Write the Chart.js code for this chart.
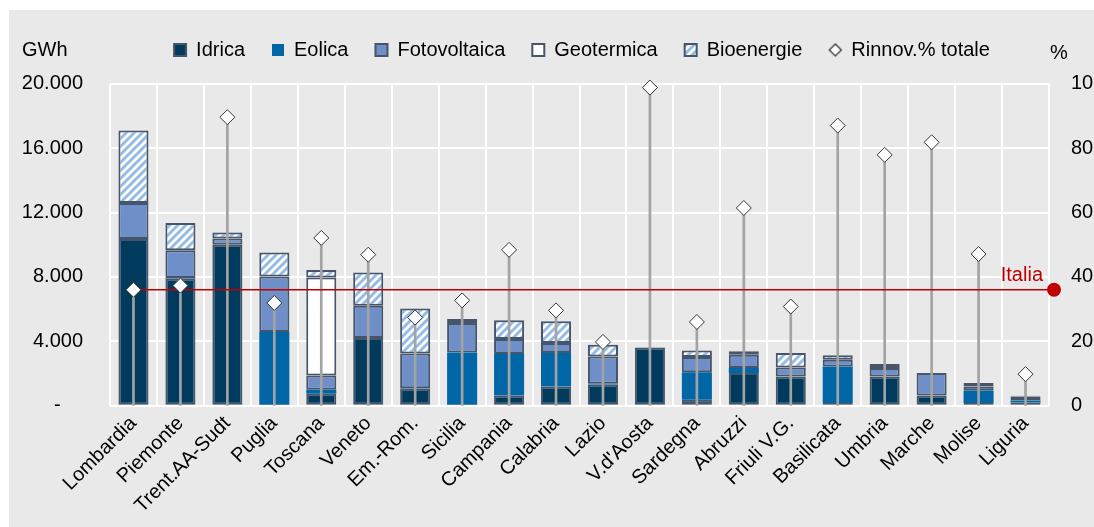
<!DOCTYPE html>
<html>
<head>
<meta charset="utf-8">
<script src="https://cdn.jsdelivr.net/npm/chart.js@4.4.1/dist/chart.umd.min.js"></script>
<style>
  html, body { margin: 0; padding: 0; background: #ffffff; }
  #wrap { position: absolute; left: 9px; top: 10px; width: 1085px; height: 517px; background: #e9e9e9; }
</style>
</head>
<body>
<div id="wrap"><canvas id="chart" width="1085" height="517"></canvas></div>
<script>
// regions (GWh stacked by source) + share of renewables (%)
const regions = ['Lombardia', 'Piemonte', 'Trent.AA-Sudt', 'Puglia', 'Toscana', 'Veneto', 'Em.-Rom.', 'Sicilia',
    'Campania', 'Calabria', 'Lazio', "V.d'Aosta", 'Sardegna', 'Abruzzi', 'Friuli V.G.', 'Basilicata', 'Umbria',
    'Marche', 'Molise', 'Liguria'];
const idrica = [10350, 7900, 10000, 0, 740, 4200, 1060, 0, 640, 1200, 1310, 3620, 370, 2030, 1820, 170, 1820, 640, 170, 200];
const eolica = [0, 30, 0, 4580, 250, 0, 20, 3310, 2570, 2070, 60, 0, 1700, 310, 0, 2270, 0, 0, 760, 120];
const fotovoltaica = [2240, 1720, 390, 3450, 890, 2010, 2170, 1830, 930, 620, 1690, 0, 950, 830, 560, 420, 520, 1390, 270, 250];
const geotermica = [0, 0, 0, 0, 6090, 0, 0, 0, 0, 0, 0, 0, 0, 0, 0, 0, 0, 0, 0, 0];
const bioenergie = [4510, 1700, 370, 1490, 460, 2070, 2790, 240, 1160, 1350, 730, 0, 410, 210, 890, 270, 250, 0, 210, 50];
const rinnovPct = [36.0, 37.3, 89.6, 31.9, 52.1, 46.9, 27.4, 32.7, 48.4, 29.6, 19.8, 98.8, 26.0, 61.4, 30.8, 87.0, 77.9, 81.8, 47.1, 9.8];
const italiaPct = 36;
const gwhTicks = [0, 4000, 8000, 12000, 16000, 20000];

const FONT = "'Liberation Sans', Arial, sans-serif";
const EDGE = '#465569';
const RED = '#c00000';

function stripes() {
    const c = document.createElement('canvas');
    c.width = 8; c.height = 8;
    const g = c.getContext('2d');
    g.fillStyle = '#ffffff';
    g.fillRect(0, 0, 8, 8);
    g.strokeStyle = '#94bce6';
    g.lineWidth = 3;
    g.beginPath();
    g.moveTo(-2, 10); g.lineTo(10, -2);
    g.moveTo(-2, 2); g.lineTo(2, -2);
    g.moveTo(6, 10); g.lineTo(10, 6);
    g.stroke();
    return g.createPattern(c, 'repeat');
}

function legendDiamond() {
    const c = document.createElement('canvas');
    c.width = 15; c.height = 15;
    const g = c.getContext('2d');
    g.fillStyle = '#ffffff';
    g.strokeStyle = '#262626';
    g.lineWidth = 1.2;
    g.beginPath();
    g.moveTo(7.5, 1.5); g.lineTo(13.5, 7.5); g.lineTo(7.5, 13.5); g.lineTo(1.5, 7.5); g.closePath();
    g.fill(); g.stroke();
    return c;
}

function fmt(v) {
    if (v === 0) return '-    ';
    return String(v).replace(/\B(?=(\d{3})+(?!\d))/g, '.');
}

function barSet(label, data, color, border) {
    return {
        label: label,
        data: data,
        backgroundColor: color,
        borderColor: EDGE,
        borderWidth: border,
        borderSkipped: false,
        barPercentage: 0.64,
        categoryPercentage: 1,
        pointStyle: 'rect',
        order: 3
    };
}

const extras = {
    id: 'extras',
    beforeDraw(chart) {
        // legend centred a bit right of the canvas centre, as in the original
        if (chart.legend) chart.legend.left = 61;
    },
    beforeDatasetDraw(chart, args) {
        if (args.index !== 5) return;
        const ctx = chart.ctx;
        const area = chart.chartArea;
        const y = chart.scales.y2.getPixelForValue(italiaPct);
        const x0 = chart.scales.x.getPixelForValue(0);
        ctx.save();
        ctx.strokeStyle = RED;
        ctx.lineWidth = 1.5;
        ctx.beginPath();
        ctx.moveTo(x0, y);
        ctx.lineTo(area.right + 5, y);
        ctx.stroke();
        ctx.fillStyle = RED;
        ctx.beginPath();
        ctx.arc(area.right + 5, y, 7, 0, Math.PI * 2);
        ctx.fill();
        ctx.font = '20px ' + FONT;
        ctx.textAlign = 'right';
        ctx.textBaseline = 'middle';
        ctx.fillText('Italia', area.right - 6, y - 14);
        ctx.restore();
    },
    afterDraw(chart) {
        const ctx = chart.ctx;
        const area = chart.chartArea;
        ctx.save();
        ctx.fillStyle = '#000000';
        ctx.font = '20px ' + FONT;
        ctx.textBaseline = 'middle';
        ctx.textAlign = 'left';
        ctx.fillText('GWh', area.left - 88, 40);
        ctx.fillText('%', area.right + 1, 43);
        ctx.restore();
    }
};

const bioPattern = stripes();
const diamondIcon = legendDiamond();

new Chart(document.getElementById('chart'), {
    type: 'bar',
    data: {
        labels: regions,
        datasets: [
            barSet('Idrica', idrica, '#003a5c', 2),
            barSet('Eolica', eolica, '#0066a6', 0),
            barSet('Fotovoltaica', fotovoltaica, '#6e8fc8', 2),
            barSet('Geotermica', geotermica, '#ffffff', 2),
            barSet('Bioenergie', bioenergie, bioPattern, 2),
            {
                type: 'line',
                label: 'Rinnov.% totale',
                data: rinnovPct,
                yAxisID: 'y2',
                showLine: false,
                pointStyle: 'rectRot',
                pointRadius: 7.5,
                pointHoverRadius: 7.5,
                pointBackgroundColor: '#ffffff',
                pointBorderColor: '#333333',
                pointBorderWidth: 1,
                backgroundColor: '#ffffff',
                borderColor: '#333333',
                clip: false,
                order: 1
            },
            {
                label: 'drop',
                data: rinnovPct,
                yAxisID: 'y2',
                grouped: false,
                backgroundColor: '#a3a3a3',
                borderWidth: 0,
                barThickness: 2,
                maxBarThickness: 2,
                order: 2
            }
        ]
    },
    options: {
        responsive: false,
        animation: false,
        events: [],
        layout: { padding: { top: 3, left: 0, right: 0, bottom: 0 } },
        plugins: {
            tooltip: { enabled: false },
            title: { display: true, text: '', weight: 500, font: { size: 1 }, padding: { top: 0, bottom: 12.5 } },
            legend: {
                position: 'top',
                labels: {
                    usePointStyle: true,
                    boxWidth: 12,
                    boxHeight: 12,
                    padding: 27,
                    color: '#000000',
                    font: { family: FONT, size: 20 },
                    filter: item => item.datasetIndex !== 6,
                    sort: (a, b) => a.datasetIndex - b.datasetIndex,
                    generateLabels(chart) {
                        const items = Chart.defaults.plugins.legend.labels.generateLabels(chart);
                        items.forEach(it => {
                            if (it.datasetIndex === 5) it.pointStyle = diamondIcon;
                            else it.pointStyle = 'rect';
                        });
                        return items;
                    }
                }
            }
        },
        scales: {
            x: {
                stacked: true,
                offset: true,
                grid: { color: '#ffffff', lineWidth: 2, offset: true, drawTicks: false },
                border: { display: false },
                ticks: {
                    color: '#000000',
                    font: { family: FONT, size: 20 },
                    minRotation: 45,
                    maxRotation: 45,
                    autoSkip: false,
                    padding: 6
                },
                afterFit: s => { s.height = 121.3; }
            },
            y: {
                stacked: true,
                min: 0,
                max: 20000,
                afterBuildTicks: s => { s.ticks = gwhTicks.map(v => ({ value: v })); },
                grid: { color: '#ffffff', lineWidth: 2, drawTicks: false },
                border: { display: false },
                ticks: {
                    color: '#000000',
                    font: { family: FONT, size: 20 },
                    padding: 27,
                    callback: v => fmt(v)
                },
                afterFit: s => { s.width = 101; }
            },
            y2: {
                position: 'right',
                min: 0,
                max: 100,
                stacked: false,
                ticks: { stepSize: 20, color: '#000000', font: { family: FONT, size: 20 }, padding: 22 },
                grid: { display: false, drawTicks: false },
                border: { display: false },
                afterFit: s => { s.width = 45; }
            }
        }
    },
    plugins: [extras]
});
</script>
</body>
</html>
